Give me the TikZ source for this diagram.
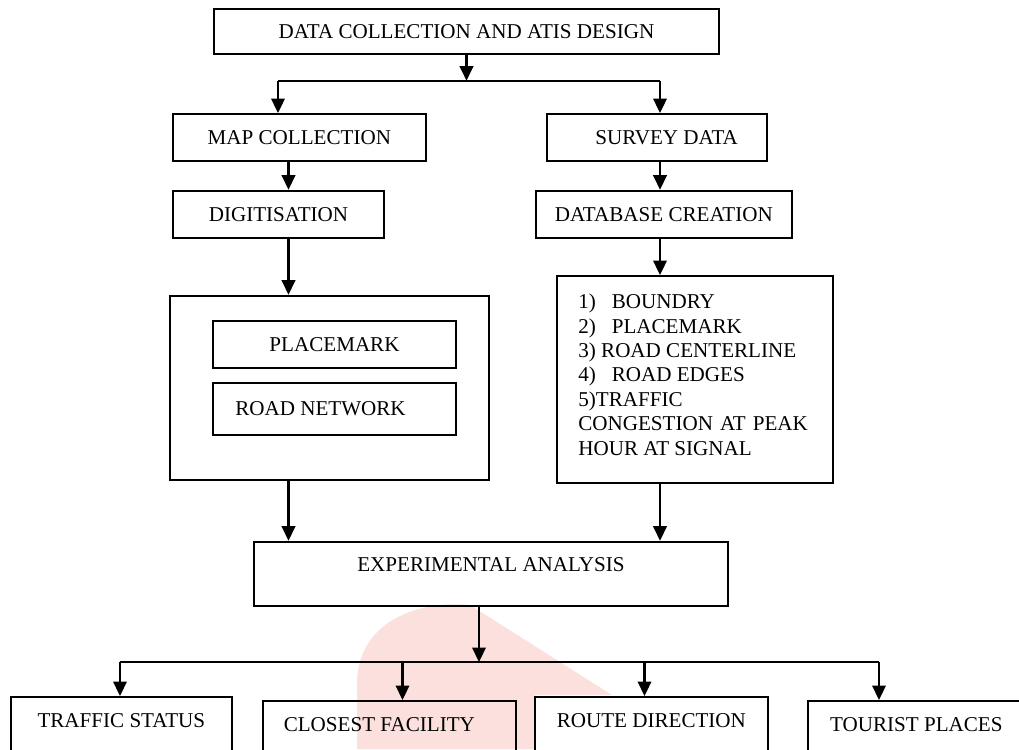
\documentclass[tikz,border=0pt]{standalone}
\usepackage{fontspec}
\setmainfont{Liberation Serif}
\usepackage{xcolor}
\usepackage{tikz}
\usetikzlibrary{positioning,calc,arrows.meta}

\definecolor{wmark}{RGB}{252,224,221}

\begin{document}
\begin{tikzpicture}[
	font=\fontsize{12pt}{13.9pt}\selectfont,
	box/.style={draw, line width=1.1pt, inner sep=0pt},
	leaf/.style={box, anchor=north, text height=0.28cm, text depth=2.5cm, inner ysep=0.34cm},
	flow/.style={line width=1.25pt},
	arr/.style={flow, -{Triangle[length=0.29cm, width=0.27cm]}}
]
	\useasboundingbox (0,0) rectangle (20.38,-14.98);
	\clip (0,0) rectangle (20.38,-14.98);
	% faint watermark
	\fill[wmark] (7.14,-14.98) -- (7.14,-13.6) .. controls (7.2,-12.4) and (8.4,-12.0) .. (9.4,-12.1) -- (12.24,-13.9) -- (10.7,-13.9) -- (10.7,-14.98) -- cycle;

	\node[box, minimum width=10.10cm, minimum height=0.90cm] (top) at (9.33,-0.63) {DATA COLLECTION AND ATIS DESIGN};

	\node[box, minimum width=5.054cm, minimum height=0.94cm] (map) at (5.987,-2.75) {MAP COLLECTION};
	\node[box, minimum width=4.22cm, minimum height=0.946cm] (digit) at (5.57,-4.287) {DIGITISATION};
	\node[box, minimum width=4.40cm, minimum height=0.94cm] (survey) at (13.134,-2.75) {\hspace*{0.4cm}SURVEY DATA};
	\node[box, minimum width=5.126cm, minimum height=0.946cm] (dbase) at (13.277,-4.287) {DATABASE CREATION};

	\node[box, minimum width=6.38cm, minimum height=3.686cm] (gis) at (6.59,-7.757) {};
	\node[box, minimum width=4.86cm, minimum height=0.94cm] (placemark) at (6.69,-6.89) {PLACEMARK};
	\node[box, minimum width=4.86cm, minimum height=1.04cm] (roadnet) at (6.69,-8.18) {ROAD NETWORK\hspace*{0.56cm}};

	\node[box, minimum width=5.526cm, minimum height=4.134cm] (layers) at (13.897,-7.587) {};
	\node[anchor=north west, inner sep=0pt, align=left] (items) at (11.56,-5.874) {
		\makebox[0.67cm][l]{1)}BOUNDRY\\
		\makebox[0.67cm][l]{2)}PLACEMARK\\
		3) ROAD CENTERLINE\\
		\makebox[0.67cm][l]{4)}ROAD EDGES\\
		5)TRAFFIC\\
		CONGESTION\hspace{0.14cm}AT\hspace{0.14cm}PEAK\\
		HOUR AT SIGNAL
	};

	\node[box, minimum width=9.48cm, minimum height=1.286cm, text depth=0.36cm] (expt) at (9.82,-11.477) {EXPERIMENTAL ANALYSIS};

	\node[leaf, minimum width=4.414cm] (traffic) at (2.427,-13.92) {TRAFFIC STATUS};
	\node[leaf, minimum width=5.066cm] (closest) at (7.787,-14.0) {CLOSEST FACILITY\hspace*{0.4cm}};
	\node[leaf, minimum width=4.654cm] (route) at (13.027,-13.92) {ROUTE DIRECTION};
	\node[leaf, minimum width=4.346cm] (tourist) at (18.327,-14.0) {TOURIST PLACES};

	% connectors
	\coordinate (lcol) at (5.77,0);
	\coordinate (rcol) at (13.2,0);
	\coordinate (splitL) at (5.56,-1.614);
	\coordinate (splitR) at (13.2,-1.614);
	\draw[flow] (splitL) -- (splitR);
	\draw[arr] (top.south) -- (top.south |- splitL);
	\draw[arr] (splitL) -- (splitL |- map.north);
	\draw[arr] (splitR) -- (splitR |- survey.north);
	\draw[arr] (lcol |- map.south) -- (lcol |- digit.north);
	\draw[arr] (lcol |- digit.south) -- (lcol |- gis.north);
	\draw[arr] (rcol |- survey.south) -- (rcol |- dbase.north);
	\draw[arr] (rcol |- dbase.south) -- (rcol |- layers.north);
	\draw[arr] (lcol |- gis.south) -- (lcol |- expt.north);
	\draw[arr] (rcol |- layers.south) -- (rcol |- expt.north);

	\coordinate (fanL) at (2.40,-13.24);
	\coordinate (fanR) at (17.58,-13.24);
	\coordinate (fanM) at (9.58,-13.24);
	\draw[flow] (fanL) -- (fanR);
	\draw[arr] (fanM |- expt.south) -- (fanM);
	\foreach \x/\target in {2.40/traffic, 8.05/closest, 12.89/route, 17.58/tourist}
		\draw[arr] (\x,-13.24) -- (\x,-13.24 |- \target.north);
\end{tikzpicture}
\end{document}
